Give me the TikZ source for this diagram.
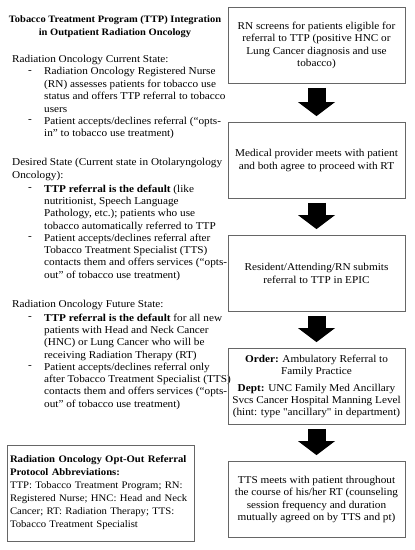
\documentclass[tikz,border=0pt]{standalone}
\usepackage{fontspec}
\setmainfont{Liberation Serif}[FakeStretch=1.07]
\usepackage{tikz}
\usetikzlibrary{positioning,arrows.meta}
\tikzset{
  flowbox/.style={draw=black!60, line width=0.8pt, minimum width=177pt, minimum height=76pt, align=center, inner sep=2pt},
  bigarrow/.style={line width=18pt, -{Triangle[length=14pt, width=37pt, line width=0pt]}, shorten <=4pt, shorten >=6pt},
  sechead/.style={anchor=north west, inner sep=0pt, align=left},
  itemtext/.style={anchor=north west, inner sep=0pt, align=left},
  bulletmark/.style={inner sep=0pt},
  abbrbox/.style={draw=black!60, line width=0.8pt, minimum width=187pt, minimum height=96pt, text width=181pt, align=left, inner xsep=3pt, inner ysep=5pt}
}
\begin{document}
\begin{tikzpicture}[x=1pt, y=-1pt, every node/.style={font=\fontsize{10.5}{12.4}\selectfont}]
  \useasboundingbox (0,0) rectangle (415,550);
  % left column
  \node[align=center, font=\fontsize{9.8}{13}\selectfont\bfseries] (title) at (115,26.5) {Tobacco Treatment Program (TTP) Integration\\in Outpatient Radiation Oncology};

  \node[sechead] (curhead) at (12,55.5) {Radiation Oncology Current State:};
  \node[bulletmark] (dashA) at (30,72) {-};
  \node[itemtext] (curA) at (44,67.5) {Radiation Oncology Registered Nurse\\(RN) assesses patients for tobacco use\\status and offers TTP referral to tobacco\\users};
  \node[bulletmark] (dashB) at (30,121) {-};
  \node[itemtext] (curB) at (44,116.5) {Patient accepts/declines referral (“opts-\\in” to tobacco use treatment)};

  \node[sechead] (deshead) at (12,158.5) {Desired State (Current state in Otolaryngology\\Oncology):};
  \node[bulletmark] (dashC) at (30,189) {-};
  \node[itemtext] (desA) at (44,184.5) {\textbf{TTP referral is the default} (like\\nutritionist, Speech Language\\Pathology, etc.); patients who use\\tobacco automatically referred to TTP};
  \node[bulletmark] (dashD) at (30,238) {-};
  \node[itemtext] (desB) at (44,233.5) {Patient accepts/declines referral after\\Tobacco Treatment Specialist (TTS)\\contacts them and offers services (“opts-\\out” of tobacco use treatment)};

  \node[sechead] (futhead) at (12,300.5) {Radiation Oncology Future State:};
  \node[bulletmark] (dashE) at (30,318) {-};
  \node[itemtext] (futA) at (44,313.5) {\textbf{TTP referral is the default} for all new\\patients with Head and Neck Cancer\\(HNC) or Lung Cancer who will be\\receiving Radiation Therapy (RT)};
  \node[bulletmark] (dashF) at (30,367) {-};
  \node[itemtext] (futB) at (44,362.5) {Patient accepts/declines referral only\\after Tobacco Treatment Specialist (TTS)\\contacts them and offers services (“opts-\\out” of tobacco use treatment)};

  \node[abbrbox, font=\fontsize{10}{13}\selectfont] (abbrev) at (100.5,493) {\textbf{Radiation Oncology Opt-Out Referral}\\\textbf{Protocol Abbreviations:}\\TTP: Tobacco Treatment Program; RN:\\Registered Nurse; HNC: Head and Neck\\Cancer; RT: Radiation Therapy; TTS:\\Tobacco Treatment Specialist};

  % right column
  \node[flowbox] (screen) at (316.5,45.5) {RN screens for patients eligible for\\referral to TTP (positive HNC or\\Lung Cancer diagnosis and use\\tobacco)};
  \node[flowbox] (agree) at (316.5,160.5) {Medical provider meets with patient\\and both agree to proceed with RT};
  \node[flowbox] (submit) at (316.5,273.5) {Resident/Attending/RN submits\\referral to TTP in EPIC};
  \node[flowbox] (order) at (316.5,386.5) {\textbf{Order:} Ambulatory Referral to\\Family Practice\\[4pt]\textbf{Dept:} UNC Family Med Ancillary\\Svcs Cancer Hospital Manning Level\\(hint: type {\addfontfeatures{Ligatures=TeXOff}"ancillary"} in department)};
  \node[flowbox] (meet) at (316.5,499.5) {TTS meets with patient throughout\\the course of his/her RT (counseling\\session frequency and duration\\mutually agreed on by TTS and pt)};

  \draw[bigarrow] (screen) -- (agree);
  \draw[bigarrow] (agree) -- (submit);
  \draw[bigarrow] (submit) -- (order);
  \draw[bigarrow] (order) -- (meet);
\end{tikzpicture}
\end{document}
